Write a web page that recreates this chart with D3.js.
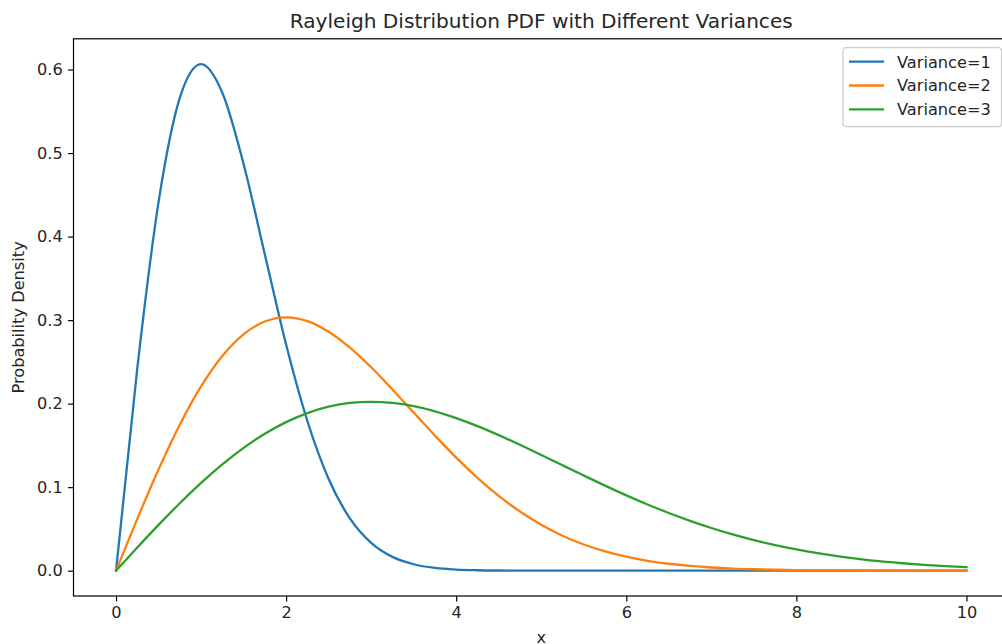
<!DOCTYPE html>
<html>
<head>
<meta charset="utf-8">
<script src="https://cdn.jsdelivr.net/npm/d3@7"></script>
<style>
  body { margin: 0; background: #fff; }
  svg { display: block; font-family: "DejaVu Sans", sans-serif; }
</style>
</head>
<body>
<div id="chart"></div>
<script>
// Chart size
const width = 1002;
const height = 644;

// Data
const xValues = [0, 0.25, 0.5, 0.75, 1, 1.25, 1.5, 1.75, 2, 2.25, 2.5, 2.75, 3, 3.25, 3.5, 3.75,
    4, 4.25, 4.5, 4.75, 5, 5.25, 5.5, 5.75, 6, 6.25, 6.5, 6.75, 7, 7.25, 7.5, 7.75,
    8, 8.25, 8.5, 8.75, 9, 9.25, 9.5, 9.75, 10];

const variance1 = [0, 0.2423, 0.4412, 0.5661, 0.6065, 0.5723, 0.4870, 0.3786, 0.2707, 0.1792, 0.1098, 0.0626,
    0.0333, 0.0165, 0.0077, 0.0033, 0.0013, 0.0005, 0.0002, 0.0001, 0, 0, 0, 0, 0, 0, 0, 0, 0, 0, 0, 0,
    0, 0, 0, 0, 0, 0, 0, 0, 0];

const variance2 = [0, 0.0620, 0.1211, 0.1748, 0.2206, 0.2571, 0.2830, 0.2983, 0.3033, 0.2988, 0.2861, 0.2671,
    0.2435, 0.2170, 0.1893, 0.1617, 0.1353, 0.1111, 0.0895, 0.0708, 0.0549, 0.0418, 0.0313, 0.0231,
    0.0167, 0.0118, 0.0083, 0.0057, 0.0038, 0.0025, 0.0017, 0.0011, 0.0007, 0.0004, 0.0003, 0.0002,
    0.0001, 0.0001, 0, 0, 0];

const variance3 = [0, 0.0277, 0.0548, 0.0807, 0.1051, 0.1273, 0.1471, 0.1640, 0.1779, 0.1887, 0.1963, 0.2008,
    0.2022, 0.2008, 0.1969, 0.1908, 0.1827, 0.1731, 0.1623, 0.1507, 0.1386, 0.1262, 0.1139, 0.1018,
    0.0902, 0.0793, 0.0691, 0.0597, 0.0511, 0.0434, 0.0366, 0.0306, 0.0254, 0.0209, 0.0171, 0.0138,
    0.0111, 0.0089, 0.0070, 0.0055, 0.0043];

const seriesNames = ["Variance=1", "Variance=2", "Variance=3"];
const xTicks = [0, 2, 4, 6, 8, 10];
const yTicks = [0.0, 0.1, 0.2, 0.3, 0.4, 0.5, 0.6];

// Style constants
const STYLES = {
    colors: ["#1f77b4", "#ff7f0e", "#2ca02c"],
    text: "#262626",
    fontSize: 16.2,
    titleSize: 20.1
};

// Plot area (right spine falls just outside the picture, as in the reference)
const margin = { left: 73.5, top: 38.8, right: 1009, bottom: 596 };

const svg = d3.select("#chart")
    .append("svg")
    .attr("width", width)
    .attr("height", height);

// Scales with matplotlib-like 5% padding
const x = d3.scaleLinear().domain([-0.5, 10.5]).range([margin.left, margin.right]);
const yMax = d3.max(variance1);
const y = d3.scaleLinear().domain([-0.05 * yMax, 1.05 * yMax]).range([margin.bottom, margin.top]);

// Curves
const series = [variance1, variance2, variance3];
const line = d3.line()
    .x((d, i) => x(xValues[i]))
    .y(d => y(d))
    .curve(d3.curveMonotoneX);

svg.append("clipPath").attr("id", "plot-clip")
    .append("rect")
    .attr("x", margin.left).attr("y", margin.top)
    .attr("width", margin.right - margin.left).attr("height", margin.bottom - margin.top);

svg.append("g")
    .attr("clip-path", "url(#plot-clip)")
    .selectAll("path")
    .data(series)
    .enter()
    .append("path")
    .attr("d", line)
    .attr("fill", "none")
    .attr("stroke", (d, i) => STYLES.colors[i])
    .attr("stroke-width", 2.3)
    .attr("stroke-linejoin", "round")
    .attr("stroke-linecap", "square");

// Axes
const xAxis = svg.append("g")
    .attr("transform", `translate(0,${margin.bottom})`)
    .call(d3.axisBottom(x).tickValues(xTicks).tickFormat(d3.format("d"))
        .tickSizeInner(5.4).tickSizeOuter(0).tickPadding(5.4));

const yAxis = svg.append("g")
    .attr("transform", `translate(${margin.left},0)`)
    .call(d3.axisLeft(y).tickValues(yTicks).tickFormat(d3.format(".1f"))
        .tickSizeInner(5.4).tickSizeOuter(0).tickPadding(5.4));

[xAxis, yAxis].forEach(a => {
    a.select(".domain").remove();
    a.selectAll(".tick line").attr("stroke", "#000").attr("stroke-width", 1.2);
    a.selectAll(".tick text")
        .attr("fill", STYLES.text)
        .style("font-size", STYLES.fontSize + "px")
        .style("font-family", "DejaVu Sans, sans-serif");
});

// Spines
svg.append("rect")
    .attr("x", margin.left)
    .attr("y", margin.top)
    .attr("width", margin.right - margin.left)
    .attr("height", margin.bottom - margin.top)
    .attr("fill", "none")
    .attr("stroke", "#000")
    .attr("stroke-width", 1.2);

// Title and axis labels
svg.append("text")
    .attr("x", (margin.left + margin.right) / 2)
    .attr("y", 28.3)
    .attr("text-anchor", "middle")
    .attr("fill", STYLES.text)
    .style("font-size", STYLES.titleSize + "px")
    .text("Rayleigh Distribution PDF with Different Variances");

svg.append("text")
    .attr("x", (margin.left + margin.right) / 2)
    .attr("y", 643)
    .attr("text-anchor", "middle")
    .attr("fill", STYLES.text)
    .style("font-size", STYLES.fontSize + "px")
    .text("x");

svg.append("text")
    .attr("transform", `translate(24,${(margin.top + margin.bottom) / 2}) rotate(-90)`)
    .attr("text-anchor", "middle")
    .attr("fill", STYLES.text)
    .style("font-size", STYLES.fontSize + "px")
    .text("Probability Density");

// Legend
const legend = svg.append("g").attr("transform", "translate(843,47.7)");
legend.append("rect")
    .attr("width", 158.5)
    .attr("height", 79)
    .attr("rx", 3)
    .attr("fill", "#fff")
    .attr("fill-opacity", 0.8)
    .attr("stroke", "#ccc")
    .attr("stroke-width", 1.2);

const items = legend.selectAll("g.item")
    .data(seriesNames)
    .enter()
    .append("g")
    .attr("class", "item")
    .attr("transform", (d, i) => `translate(0,${14 + i * 23.8})`);

items.append("line")
    .attr("x1", 6).attr("x2", 41)
    .attr("stroke", (d, i) => STYLES.colors[i])
    .attr("stroke-width", 2.3);

items.append("text")
    .attr("x", 54)
    .attr("dy", "0.36em")
    .attr("fill", STYLES.text)
    .style("font-size", STYLES.fontSize + "px")
    .text(d => d);
</script>
</body>
</html>
